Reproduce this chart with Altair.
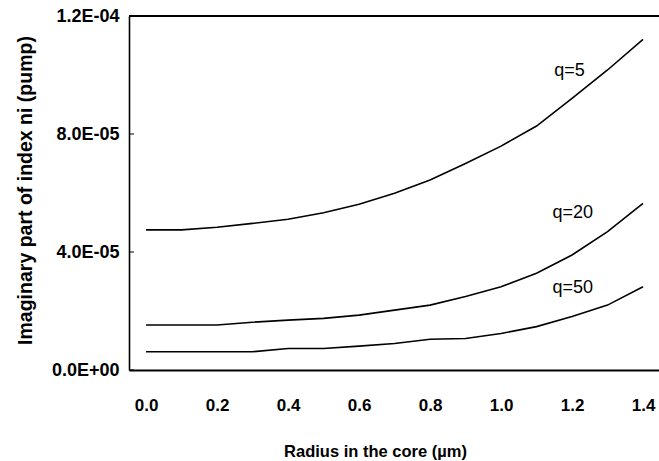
import altair as alt
import pandas as pd

radius = [0.0, 0.1, 0.2, 0.3, 0.4, 0.5, 0.6, 0.7, 0.8, 0.9, 1.0, 1.1, 1.2, 1.3, 1.4]
q5 = [47.5, 47.5, 48.4, 49.7, 51.1, 53.3, 56.2, 59.9, 64.4, 70.0, 75.9, 82.7, 92.1, 101.7, 112.1]
q20 = [15.25, 15.25, 15.25, 16.2, 16.9, 17.5, 18.6, 20.3, 22.0, 24.9, 28.2, 32.8, 39.0, 46.9, 56.5]
q50 = [6.2, 6.2, 6.2, 6.2, 7.3, 7.3, 8.1, 9.0, 10.4, 10.7, 12.4, 14.7, 18.1, 22.0, 28.2]
series_names = ["q=5", "q=20", "q=50"]
label_x = [1.15, 1.145, 1.145]
label_y = [99.6, 51.4, 26.0]  # in 1e-6 units

y_tick_values = [0.0, 4e-5, 8e-5, 1.2e-4]
y_tick_labels = ["0.0E+00", "4.0E-05", "8.0E-05", "1.2E-04"]
x_tick_values = [0.0, 0.2, 0.4, 0.6, 0.8, 1.0, 1.2, 1.4]

rows = []
for name, vals in zip(series_names, [q5, q20, q50]):
    for r, v in zip(radius, vals):
        rows.append({"r": r, "ni": v * 1e-6, "q": name})
df = pd.DataFrame(rows)
lab = pd.DataFrame({"r": label_x, "ni": [v * 1e-6 for v in label_y], "q": series_names})
ticks = pd.DataFrame({"v": y_tick_values})

FONT = "Liberation Sans"

label_expr = " : ".join(
    [f"abs(datum.value - {v}) < 1e-9 ? '{t}'" for v, t in zip(y_tick_values, y_tick_labels)]
) + " : ''"

xscale = alt.Scale(domain=[-0.048, 1.445], nice=False, zero=False)
yscale = alt.Scale(domain=[0, 1.2e-4], nice=False)

lines = alt.Chart(df).mark_line(color="black", strokeWidth=1.6).encode(
    x=alt.X("r:Q", scale=xscale, axis=alt.Axis(
        values=x_tick_values, format=".1f", tickSize=0, grid=False,
        domainColor="black", domainWidth=2, labelFont=FONT, labelFontSize=17,
        labelFontWeight="bold", labelColor="black", labelPadding=27,
        title="Radius in the core (µm)", titleFont=FONT, titleFontSize=16.5,
        titleFontWeight="bold", titleColor="black", titleX=246, titleY=86,
        titleBaseline="alphabetic", titleAlign="center")),
    y=alt.Y("ni:Q", scale=yscale, axis=alt.Axis(
        values=y_tick_values, labelExpr=label_expr, tickSize=0, grid=False,
        domainColor="black", domainWidth=1.6, labelFont=FONT, labelFontSize=18,
        labelFontWeight="bold", labelColor="black", labelPadding=10,
        title="Imaginary part of index ni (pump)", titleFont=FONT, titleFontSize=19.5,
        titleFontWeight="bold", titleColor="black", titleAngle=-90,
        titleX=-98, titleY=174, titleBaseline="alphabetic", titleAlign="center")),
    detail="q:N",
)

texts = alt.Chart(lab).mark_text(align="left", baseline="alphabetic", font=FONT,
                                 fontSize=18, color="black").encode(
    x=alt.X("r:Q", scale=xscale), y=alt.Y("ni:Q", scale=yscale), text="q:N")

inner_ticks = alt.Chart(ticks).mark_rule(color="black", strokeWidth=1).encode(
    y=alt.Y("v:Q", scale=yscale), x=alt.value(0), x2=alt.value(5))

top_line = alt.Chart(ticks).mark_rule(color="black", strokeWidth=2).encode(
    y=alt.value(0), x=alt.value(0), x2=alt.value(530))

chart = alt.layer(lines, texts, inner_ticks, top_line).properties(
    width=530, height=354,
    autosize=alt.AutoSizeParams(type="none"),
    padding={"left": 129, "top": 16, "right": 0, "bottom": 91},
).configure_view(stroke=None).configure(background="white")

chart.save("out.html", embed_options={"renderer": "svg", "actions": False})
